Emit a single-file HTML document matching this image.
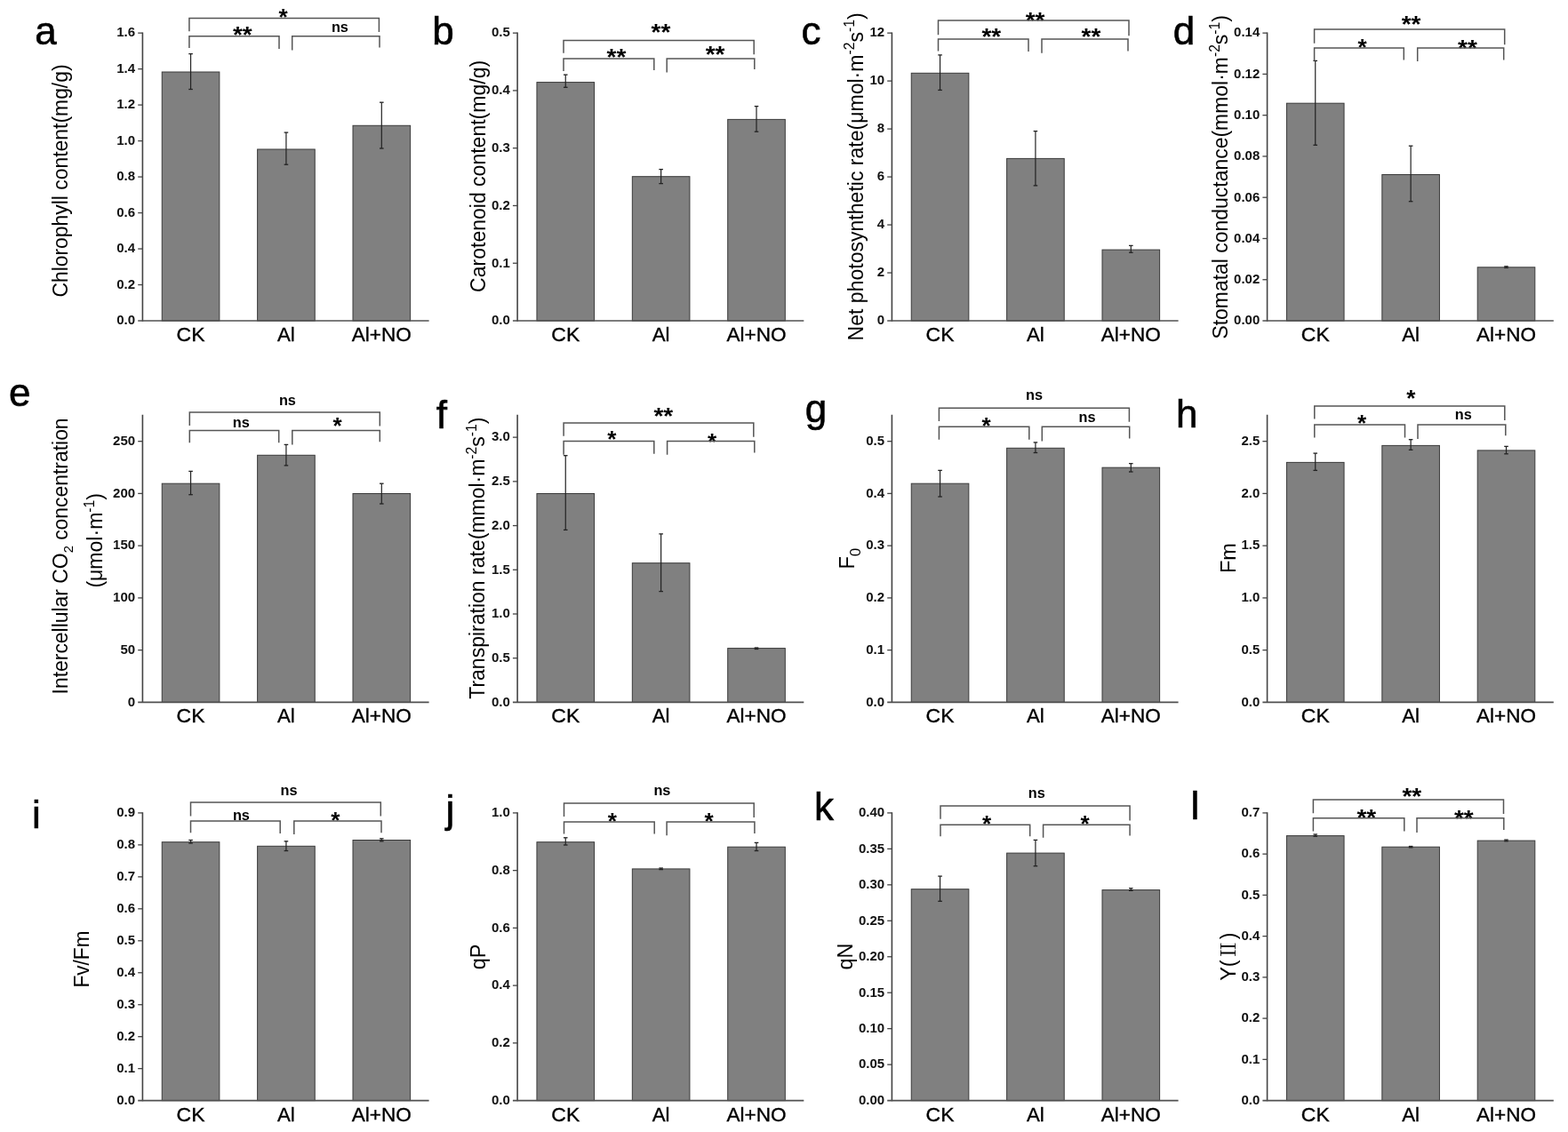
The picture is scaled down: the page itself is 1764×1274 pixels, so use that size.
<!DOCTYPE html>
<html><head><meta charset="utf-8"><title>Figure</title>
<style>
html,body{margin:0;padding:0;background:#fff;}
body{width:1764px;height:1274px;overflow:hidden;}
svg{display:block;}
text{font-family:"Liberation Sans", Arial, sans-serif;}
</style></head>
<body>
<svg width="1764" height="1274" viewBox="0 0 1764 1274">
<rect width="1764" height="1274" fill="#fff"/>
<g id="panel-a">
<rect x="182.25" y="81" width="64.6" height="280" fill="#808080" stroke="#3a3a3a" stroke-width="1"/>
<rect x="289.63" y="168" width="64.6" height="193" fill="#808080" stroke="#3a3a3a" stroke-width="1"/>
<rect x="397.01" y="141.3" width="64.6" height="219.7" fill="#808080" stroke="#3a3a3a" stroke-width="1"/>
<line x1="214.55" y1="60.6" x2="214.55" y2="100.5" stroke="#222" stroke-width="1.2"/>
<line x1="212.25" y1="60.6" x2="216.85" y2="60.6" stroke="#222" stroke-width="1.3"/>
<line x1="212.25" y1="100.5" x2="216.85" y2="100.5" stroke="#222" stroke-width="1.3"/>
<line x1="321.93" y1="149.1" x2="321.93" y2="185.2" stroke="#222" stroke-width="1.2"/>
<line x1="319.63" y1="149.1" x2="324.23" y2="149.1" stroke="#222" stroke-width="1.3"/>
<line x1="319.63" y1="185.2" x2="324.23" y2="185.2" stroke="#222" stroke-width="1.3"/>
<line x1="429.31" y1="115.2" x2="429.31" y2="167" stroke="#222" stroke-width="1.2"/>
<line x1="427.01" y1="115.2" x2="431.61" y2="115.2" stroke="#222" stroke-width="1.3"/>
<line x1="427.01" y1="167" x2="431.61" y2="167" stroke="#222" stroke-width="1.3"/>
<line x1="160.4" y1="36.55" x2="160.4" y2="361.7" stroke="#444" stroke-width="1.6"/>
<line x1="155.2" y1="361" x2="482.6" y2="361" stroke="#505050" stroke-width="1.6"/>
<text x="152.1" y="365.3" font-size="15" font-weight="bold" text-anchor="end" fill="#111">0.0</text>
<line x1="155.2" y1="320.52" x2="160.4" y2="320.52" stroke="#444" stroke-width="1.3"/>
<text x="152.1" y="324.82" font-size="15" font-weight="bold" text-anchor="end" fill="#111">0.2</text>
<line x1="155.2" y1="280.04" x2="160.4" y2="280.04" stroke="#444" stroke-width="1.3"/>
<text x="152.1" y="284.34" font-size="15" font-weight="bold" text-anchor="end" fill="#111">0.4</text>
<line x1="155.2" y1="239.56" x2="160.4" y2="239.56" stroke="#444" stroke-width="1.3"/>
<text x="152.1" y="243.86" font-size="15" font-weight="bold" text-anchor="end" fill="#111">0.6</text>
<line x1="155.2" y1="199.07" x2="160.4" y2="199.07" stroke="#444" stroke-width="1.3"/>
<text x="152.1" y="203.38" font-size="15" font-weight="bold" text-anchor="end" fill="#111">0.8</text>
<line x1="155.2" y1="158.59" x2="160.4" y2="158.59" stroke="#444" stroke-width="1.3"/>
<text x="152.1" y="162.89" font-size="15" font-weight="bold" text-anchor="end" fill="#111">1.0</text>
<line x1="155.2" y1="118.11" x2="160.4" y2="118.11" stroke="#444" stroke-width="1.3"/>
<text x="152.1" y="122.41" font-size="15" font-weight="bold" text-anchor="end" fill="#111">1.2</text>
<line x1="155.2" y1="77.63" x2="160.4" y2="77.63" stroke="#444" stroke-width="1.3"/>
<text x="152.1" y="81.93" font-size="15" font-weight="bold" text-anchor="end" fill="#111">1.4</text>
<line x1="155.2" y1="37.15" x2="160.4" y2="37.15" stroke="#444" stroke-width="1.3"/>
<text x="152.1" y="41.45" font-size="15" font-weight="bold" text-anchor="end" fill="#111">1.6</text>
<text x="214.55" y="383.9" font-size="21.5" text-anchor="middle" textLength="31.9" lengthAdjust="spacingAndGlyphs" fill="#000" stroke="#000" stroke-width="0.35">CK</text>
<text x="321.93" y="383.9" font-size="21.5" text-anchor="middle" textLength="19.8" lengthAdjust="spacingAndGlyphs" fill="#000" stroke="#000" stroke-width="0.35">Al</text>
<text x="429.31" y="383.9" font-size="21.5" text-anchor="middle" textLength="67.0" lengthAdjust="spacingAndGlyphs" fill="#000" stroke="#000" stroke-width="0.35">Al+NO</text>
<text x="313.4" y="28.13" font-size="25.5" font-weight="bold" textLength="10.2" lengthAdjust="spacingAndGlyphs" fill="#000">*</text>
<text x="261.9" y="47.63" font-size="25.5" font-weight="bold" textLength="21.8" lengthAdjust="spacingAndGlyphs" fill="#000">**</text>
<text x="382.4" y="35.9" font-size="16.3" font-weight="bold" text-anchor="middle" fill="#000">ns</text>
<path d="M212.9,35.2V20.4H426.4V36.1" fill="none" stroke="#555" stroke-width="1.5"/>
<path d="M212.9,54V40.8H314V55" fill="none" stroke="#555" stroke-width="1.5"/>
<path d="M328.7,56.5V40.8H427V53.4" fill="none" stroke="#555" stroke-width="1.5"/>
<text x="39.2" y="50.2" font-size="44" fill="#000" stroke="#000" stroke-width="0.6">a</text>
</g>
<g id="panel-b">
<rect x="603.95" y="92.6" width="64.6" height="268.4" fill="#808080" stroke="#3a3a3a" stroke-width="1"/>
<rect x="711.33" y="198.7" width="64.6" height="162.3" fill="#808080" stroke="#3a3a3a" stroke-width="1"/>
<rect x="818.71" y="134.4" width="64.6" height="226.6" fill="#808080" stroke="#3a3a3a" stroke-width="1"/>
<line x1="636.25" y1="84.1" x2="636.25" y2="98.3" stroke="#222" stroke-width="1.2"/>
<line x1="633.95" y1="84.1" x2="638.55" y2="84.1" stroke="#222" stroke-width="1.3"/>
<line x1="633.95" y1="98.3" x2="638.55" y2="98.3" stroke="#222" stroke-width="1.3"/>
<line x1="743.63" y1="190.6" x2="743.63" y2="206.6" stroke="#222" stroke-width="1.2"/>
<line x1="741.33" y1="190.6" x2="745.93" y2="190.6" stroke="#222" stroke-width="1.3"/>
<line x1="741.33" y1="206.6" x2="745.93" y2="206.6" stroke="#222" stroke-width="1.3"/>
<line x1="851.01" y1="119.6" x2="851.01" y2="148.2" stroke="#222" stroke-width="1.2"/>
<line x1="848.71" y1="119.6" x2="853.31" y2="119.6" stroke="#222" stroke-width="1.3"/>
<line x1="848.71" y1="148.2" x2="853.31" y2="148.2" stroke="#222" stroke-width="1.3"/>
<line x1="582.1" y1="36.55" x2="582.1" y2="361.7" stroke="#444" stroke-width="1.6"/>
<line x1="576.9" y1="361" x2="904.3" y2="361" stroke="#505050" stroke-width="1.6"/>
<text x="573.8" y="365.3" font-size="15" font-weight="bold" text-anchor="end" fill="#111">0.0</text>
<line x1="576.9" y1="296.23" x2="582.1" y2="296.23" stroke="#444" stroke-width="1.3"/>
<text x="573.8" y="300.53" font-size="15" font-weight="bold" text-anchor="end" fill="#111">0.1</text>
<line x1="576.9" y1="231.46" x2="582.1" y2="231.46" stroke="#444" stroke-width="1.3"/>
<text x="573.8" y="235.76" font-size="15" font-weight="bold" text-anchor="end" fill="#111">0.2</text>
<line x1="576.9" y1="166.69" x2="582.1" y2="166.69" stroke="#444" stroke-width="1.3"/>
<text x="573.8" y="170.99" font-size="15" font-weight="bold" text-anchor="end" fill="#111">0.3</text>
<line x1="576.9" y1="101.92" x2="582.1" y2="101.92" stroke="#444" stroke-width="1.3"/>
<text x="573.8" y="106.22" font-size="15" font-weight="bold" text-anchor="end" fill="#111">0.4</text>
<line x1="576.9" y1="37.15" x2="582.1" y2="37.15" stroke="#444" stroke-width="1.3"/>
<text x="573.8" y="41.45" font-size="15" font-weight="bold" text-anchor="end" fill="#111">0.5</text>
<text x="636.25" y="383.9" font-size="21.5" text-anchor="middle" textLength="31.9" lengthAdjust="spacingAndGlyphs" fill="#000" stroke="#000" stroke-width="0.35">CK</text>
<text x="743.63" y="383.9" font-size="21.5" text-anchor="middle" textLength="19.8" lengthAdjust="spacingAndGlyphs" fill="#000" stroke="#000" stroke-width="0.35">Al</text>
<text x="851.01" y="383.9" font-size="21.5" text-anchor="middle" textLength="67.0" lengthAdjust="spacingAndGlyphs" fill="#000" stroke="#000" stroke-width="0.35">Al+NO</text>
<text x="732.5" y="44.53" font-size="25.5" font-weight="bold" textLength="21.8" lengthAdjust="spacingAndGlyphs" fill="#000">**</text>
<text x="682.6" y="72.83" font-size="25.5" font-weight="bold" textLength="21.8" lengthAdjust="spacingAndGlyphs" fill="#000">**</text>
<text x="793.7" y="69.63" font-size="25.5" font-weight="bold" textLength="21.8" lengthAdjust="spacingAndGlyphs" fill="#000">**</text>
<path d="M634,59.7V45.5H848.2V61.2" fill="none" stroke="#555" stroke-width="1.5"/>
<path d="M634,80V65.9H735.8V79" fill="none" stroke="#555" stroke-width="1.5"/>
<path d="M750.2,81.6V65.9H848.8V77.9" fill="none" stroke="#555" stroke-width="1.5"/>
<text x="486.2" y="49.9" font-size="44" fill="#000" stroke="#000" stroke-width="0.6">b</text>
</g>
<g id="panel-c">
<rect x="1025.25" y="82.3" width="64.6" height="278.7" fill="#808080" stroke="#3a3a3a" stroke-width="1"/>
<rect x="1132.63" y="178.4" width="64.6" height="182.6" fill="#808080" stroke="#3a3a3a" stroke-width="1"/>
<rect x="1240.01" y="281.1" width="64.6" height="79.9" fill="#808080" stroke="#3a3a3a" stroke-width="1"/>
<line x1="1057.55" y1="61.9" x2="1057.55" y2="101.4" stroke="#222" stroke-width="1.2"/>
<line x1="1055.25" y1="61.9" x2="1059.85" y2="61.9" stroke="#222" stroke-width="1.3"/>
<line x1="1055.25" y1="101.4" x2="1059.85" y2="101.4" stroke="#222" stroke-width="1.3"/>
<line x1="1164.93" y1="147.6" x2="1164.93" y2="208.9" stroke="#222" stroke-width="1.2"/>
<line x1="1162.63" y1="147.6" x2="1167.23" y2="147.6" stroke="#222" stroke-width="1.3"/>
<line x1="1162.63" y1="208.9" x2="1167.23" y2="208.9" stroke="#222" stroke-width="1.3"/>
<line x1="1272.31" y1="276.4" x2="1272.31" y2="284.2" stroke="#222" stroke-width="1.2"/>
<line x1="1270.01" y1="276.4" x2="1274.61" y2="276.4" stroke="#222" stroke-width="1.3"/>
<line x1="1270.01" y1="284.2" x2="1274.61" y2="284.2" stroke="#222" stroke-width="1.3"/>
<line x1="1003.4" y1="36.55" x2="1003.4" y2="361.7" stroke="#444" stroke-width="1.6"/>
<line x1="998.2" y1="361" x2="1325.6" y2="361" stroke="#505050" stroke-width="1.6"/>
<text x="995.1" y="365.3" font-size="15" font-weight="bold" text-anchor="end" fill="#111">0</text>
<line x1="998.2" y1="307.02" x2="1003.4" y2="307.02" stroke="#444" stroke-width="1.3"/>
<text x="995.1" y="311.32" font-size="15" font-weight="bold" text-anchor="end" fill="#111">2</text>
<line x1="998.2" y1="253.05" x2="1003.4" y2="253.05" stroke="#444" stroke-width="1.3"/>
<text x="995.1" y="257.35" font-size="15" font-weight="bold" text-anchor="end" fill="#111">4</text>
<line x1="998.2" y1="199.07" x2="1003.4" y2="199.07" stroke="#444" stroke-width="1.3"/>
<text x="995.1" y="203.38" font-size="15" font-weight="bold" text-anchor="end" fill="#111">6</text>
<line x1="998.2" y1="145.1" x2="1003.4" y2="145.1" stroke="#444" stroke-width="1.3"/>
<text x="995.1" y="149.4" font-size="15" font-weight="bold" text-anchor="end" fill="#111">8</text>
<line x1="998.2" y1="91.12" x2="1003.4" y2="91.12" stroke="#444" stroke-width="1.3"/>
<text x="995.1" y="95.42" font-size="15" font-weight="bold" text-anchor="end" fill="#111">10</text>
<line x1="998.2" y1="37.15" x2="1003.4" y2="37.15" stroke="#444" stroke-width="1.3"/>
<text x="995.1" y="41.45" font-size="15" font-weight="bold" text-anchor="end" fill="#111">12</text>
<text x="1057.55" y="383.9" font-size="21.5" text-anchor="middle" textLength="31.9" lengthAdjust="spacingAndGlyphs" fill="#000" stroke="#000" stroke-width="0.35">CK</text>
<text x="1164.93" y="383.9" font-size="21.5" text-anchor="middle" textLength="19.8" lengthAdjust="spacingAndGlyphs" fill="#000" stroke="#000" stroke-width="0.35">Al</text>
<text x="1272.31" y="383.9" font-size="21.5" text-anchor="middle" textLength="67.0" lengthAdjust="spacingAndGlyphs" fill="#000" stroke="#000" stroke-width="0.35">Al+NO</text>
<text x="1153.7" y="31.53" font-size="25.5" font-weight="bold" textLength="21.8" lengthAdjust="spacingAndGlyphs" fill="#000">**</text>
<text x="1104.4" y="50.13" font-size="25.5" font-weight="bold" textLength="21.8" lengthAdjust="spacingAndGlyphs" fill="#000">**</text>
<text x="1216.5" y="50.13" font-size="25.5" font-weight="bold" textLength="21.8" lengthAdjust="spacingAndGlyphs" fill="#000">**</text>
<path d="M1055.5,39.3V22.9H1270V40.2" fill="none" stroke="#555" stroke-width="1.5"/>
<path d="M1055.5,57.5V44H1157V58.1" fill="none" stroke="#555" stroke-width="1.5"/>
<path d="M1172,59.7V44H1269V57.5" fill="none" stroke="#555" stroke-width="1.5"/>
<text x="901.4" y="49.6" font-size="44" fill="#000" stroke="#000" stroke-width="0.6">c</text>
</g>
<g id="panel-d">
<rect x="1447.45" y="116.2" width="64.6" height="244.8" fill="#808080" stroke="#3a3a3a" stroke-width="1"/>
<rect x="1554.83" y="196.5" width="64.6" height="164.5" fill="#808080" stroke="#3a3a3a" stroke-width="1"/>
<rect x="1662.21" y="300.8" width="64.6" height="60.2" fill="#808080" stroke="#3a3a3a" stroke-width="1"/>
<line x1="1479.75" y1="68.4" x2="1479.75" y2="163.3" stroke="#222" stroke-width="1.2"/>
<line x1="1477.45" y1="68.4" x2="1482.05" y2="68.4" stroke="#222" stroke-width="1.3"/>
<line x1="1477.45" y1="163.3" x2="1482.05" y2="163.3" stroke="#222" stroke-width="1.3"/>
<line x1="1587.13" y1="164.2" x2="1587.13" y2="226.7" stroke="#222" stroke-width="1.2"/>
<line x1="1584.83" y1="164.2" x2="1589.43" y2="164.2" stroke="#222" stroke-width="1.3"/>
<line x1="1584.83" y1="226.7" x2="1589.43" y2="226.7" stroke="#222" stroke-width="1.3"/>
<line x1="1694.51" y1="299.8" x2="1694.51" y2="301.4" stroke="#222" stroke-width="1.2"/>
<line x1="1692.21" y1="299.8" x2="1696.81" y2="299.8" stroke="#222" stroke-width="1.3"/>
<line x1="1692.21" y1="301.4" x2="1696.81" y2="301.4" stroke="#222" stroke-width="1.3"/>
<line x1="1425.6" y1="36.55" x2="1425.6" y2="361.7" stroke="#444" stroke-width="1.6"/>
<line x1="1420.4" y1="361" x2="1747.8" y2="361" stroke="#505050" stroke-width="1.6"/>
<text x="1417.3" y="365.3" font-size="15" font-weight="bold" text-anchor="end" fill="#111">0.00</text>
<line x1="1420.4" y1="314.74" x2="1425.6" y2="314.74" stroke="#444" stroke-width="1.3"/>
<text x="1417.3" y="319.04" font-size="15" font-weight="bold" text-anchor="end" fill="#111">0.02</text>
<line x1="1420.4" y1="268.47" x2="1425.6" y2="268.47" stroke="#444" stroke-width="1.3"/>
<text x="1417.3" y="272.77" font-size="15" font-weight="bold" text-anchor="end" fill="#111">0.04</text>
<line x1="1420.4" y1="222.21" x2="1425.6" y2="222.21" stroke="#444" stroke-width="1.3"/>
<text x="1417.3" y="226.51" font-size="15" font-weight="bold" text-anchor="end" fill="#111">0.06</text>
<line x1="1420.4" y1="175.94" x2="1425.6" y2="175.94" stroke="#444" stroke-width="1.3"/>
<text x="1417.3" y="180.24" font-size="15" font-weight="bold" text-anchor="end" fill="#111">0.08</text>
<line x1="1420.4" y1="129.68" x2="1425.6" y2="129.68" stroke="#444" stroke-width="1.3"/>
<text x="1417.3" y="133.98" font-size="15" font-weight="bold" text-anchor="end" fill="#111">0.10</text>
<line x1="1420.4" y1="83.41" x2="1425.6" y2="83.41" stroke="#444" stroke-width="1.3"/>
<text x="1417.3" y="87.71" font-size="15" font-weight="bold" text-anchor="end" fill="#111">0.12</text>
<line x1="1420.4" y1="37.15" x2="1425.6" y2="37.15" stroke="#444" stroke-width="1.3"/>
<text x="1417.3" y="41.45" font-size="15" font-weight="bold" text-anchor="end" fill="#111">0.14</text>
<text x="1479.75" y="383.9" font-size="21.5" text-anchor="middle" textLength="31.9" lengthAdjust="spacingAndGlyphs" fill="#000" stroke="#000" stroke-width="0.35">CK</text>
<text x="1587.13" y="383.9" font-size="21.5" text-anchor="middle" textLength="19.8" lengthAdjust="spacingAndGlyphs" fill="#000" stroke="#000" stroke-width="0.35">Al</text>
<text x="1694.51" y="383.9" font-size="21.5" text-anchor="middle" textLength="67.0" lengthAdjust="spacingAndGlyphs" fill="#000" stroke="#000" stroke-width="0.35">Al+NO</text>
<text x="1576.7" y="35.73" font-size="25.5" font-weight="bold" textLength="21.8" lengthAdjust="spacingAndGlyphs" fill="#000">**</text>
<text x="1527.6" y="61.83" font-size="25.5" font-weight="bold" textLength="10.2" lengthAdjust="spacingAndGlyphs" fill="#000">*</text>
<text x="1640.1" y="62.73" font-size="25.5" font-weight="bold" textLength="21.8" lengthAdjust="spacingAndGlyphs" fill="#000">**</text>
<path d="M1478.6,48.7V33H1692.7V50.2" fill="none" stroke="#555" stroke-width="1.5"/>
<path d="M1478.6,68.4V54H1579.3V67.5" fill="none" stroke="#555" stroke-width="1.5"/>
<path d="M1594.7,69V54H1691.7V67.5" fill="none" stroke="#555" stroke-width="1.5"/>
<text x="1319.7" y="50.2" font-size="44" fill="#000" stroke="#000" stroke-width="0.6">d</text>
</g>
<g id="panel-e">
<rect x="182.25" y="544.2" width="64.6" height="246.2" fill="#808080" stroke="#3a3a3a" stroke-width="1"/>
<rect x="289.63" y="512.3" width="64.6" height="278.1" fill="#808080" stroke="#3a3a3a" stroke-width="1"/>
<rect x="397.01" y="555.5" width="64.6" height="234.9" fill="#808080" stroke="#3a3a3a" stroke-width="1"/>
<line x1="214.55" y1="530.4" x2="214.55" y2="556.7" stroke="#222" stroke-width="1.2"/>
<line x1="212.25" y1="530.4" x2="216.85" y2="530.4" stroke="#222" stroke-width="1.3"/>
<line x1="212.25" y1="556.7" x2="216.85" y2="556.7" stroke="#222" stroke-width="1.3"/>
<line x1="321.93" y1="500.4" x2="321.93" y2="523.9" stroke="#222" stroke-width="1.2"/>
<line x1="319.63" y1="500.4" x2="324.23" y2="500.4" stroke="#222" stroke-width="1.3"/>
<line x1="319.63" y1="523.9" x2="324.23" y2="523.9" stroke="#222" stroke-width="1.3"/>
<line x1="429.31" y1="544.2" x2="429.31" y2="567" stroke="#222" stroke-width="1.2"/>
<line x1="427.01" y1="544.2" x2="431.61" y2="544.2" stroke="#222" stroke-width="1.3"/>
<line x1="427.01" y1="567" x2="431.61" y2="567" stroke="#222" stroke-width="1.3"/>
<line x1="160.4" y1="466.7" x2="160.4" y2="791.1" stroke="#444" stroke-width="1.6"/>
<line x1="155.2" y1="790.4" x2="482.6" y2="790.4" stroke="#505050" stroke-width="1.6"/>
<text x="152.1" y="794.7" font-size="15" font-weight="bold" text-anchor="end" fill="#111">0</text>
<line x1="155.2" y1="731.65" x2="160.4" y2="731.65" stroke="#444" stroke-width="1.3"/>
<text x="152.1" y="735.95" font-size="15" font-weight="bold" text-anchor="end" fill="#111">50</text>
<line x1="155.2" y1="672.91" x2="160.4" y2="672.91" stroke="#444" stroke-width="1.3"/>
<text x="152.1" y="677.21" font-size="15" font-weight="bold" text-anchor="end" fill="#111">100</text>
<line x1="155.2" y1="614.16" x2="160.4" y2="614.16" stroke="#444" stroke-width="1.3"/>
<text x="152.1" y="618.46" font-size="15" font-weight="bold" text-anchor="end" fill="#111">150</text>
<line x1="155.2" y1="555.42" x2="160.4" y2="555.42" stroke="#444" stroke-width="1.3"/>
<text x="152.1" y="559.72" font-size="15" font-weight="bold" text-anchor="end" fill="#111">200</text>
<line x1="155.2" y1="496.67" x2="160.4" y2="496.67" stroke="#444" stroke-width="1.3"/>
<text x="152.1" y="500.97" font-size="15" font-weight="bold" text-anchor="end" fill="#111">250</text>
<text x="214.55" y="813.3" font-size="21.5" text-anchor="middle" textLength="31.9" lengthAdjust="spacingAndGlyphs" fill="#000" stroke="#000" stroke-width="0.35">CK</text>
<text x="321.93" y="813.3" font-size="21.5" text-anchor="middle" textLength="19.8" lengthAdjust="spacingAndGlyphs" fill="#000" stroke="#000" stroke-width="0.35">Al</text>
<text x="429.31" y="813.3" font-size="21.5" text-anchor="middle" textLength="67.0" lengthAdjust="spacingAndGlyphs" fill="#000" stroke="#000" stroke-width="0.35">Al+NO</text>
<text x="323.4" y="455.8" font-size="16.3" font-weight="bold" text-anchor="middle" fill="#000">ns</text>
<text x="271.2" y="480.5" font-size="16.3" font-weight="bold" text-anchor="middle" fill="#000">ns</text>
<text x="374.4" y="488.43" font-size="25.5" font-weight="bold" textLength="10.2" lengthAdjust="spacingAndGlyphs" fill="#000">*</text>
<path d="M213.3,478.9V464.1H427.3V479.5" fill="none" stroke="#555" stroke-width="1.5"/>
<path d="M213.3,498.2V484.4H313.7V498.2" fill="none" stroke="#555" stroke-width="1.5"/>
<path d="M328.8,500.4V484.4H427.3V497.2" fill="none" stroke="#555" stroke-width="1.5"/>
<text x="10" y="457.2" font-size="44" fill="#000" stroke="#000" stroke-width="0.6">e</text>
</g>
<g id="panel-f">
<rect x="603.95" y="555.5" width="64.6" height="234.9" fill="#808080" stroke="#3a3a3a" stroke-width="1"/>
<rect x="711.33" y="633.7" width="64.6" height="156.7" fill="#808080" stroke="#3a3a3a" stroke-width="1"/>
<rect x="818.71" y="729.6" width="64.6" height="60.8" fill="#808080" stroke="#3a3a3a" stroke-width="1"/>
<line x1="636.25" y1="512.7" x2="636.25" y2="596.4" stroke="#222" stroke-width="1.2"/>
<line x1="633.95" y1="512.7" x2="638.55" y2="512.7" stroke="#222" stroke-width="1.3"/>
<line x1="633.95" y1="596.4" x2="638.55" y2="596.4" stroke="#222" stroke-width="1.3"/>
<line x1="743.63" y1="600.9" x2="743.63" y2="665.6" stroke="#222" stroke-width="1.2"/>
<line x1="741.33" y1="600.9" x2="745.93" y2="600.9" stroke="#222" stroke-width="1.3"/>
<line x1="741.33" y1="665.6" x2="745.93" y2="665.6" stroke="#222" stroke-width="1.3"/>
<line x1="851.01" y1="729" x2="851.01" y2="730.5" stroke="#222" stroke-width="1.2"/>
<line x1="848.71" y1="729" x2="853.31" y2="729" stroke="#222" stroke-width="1.3"/>
<line x1="848.71" y1="730.5" x2="853.31" y2="730.5" stroke="#222" stroke-width="1.3"/>
<line x1="582.1" y1="466.7" x2="582.1" y2="791.1" stroke="#444" stroke-width="1.6"/>
<line x1="576.9" y1="790.4" x2="904.3" y2="790.4" stroke="#505050" stroke-width="1.6"/>
<text x="573.8" y="794.7" font-size="15" font-weight="bold" text-anchor="end" fill="#111">0.0</text>
<line x1="576.9" y1="740.69" x2="582.1" y2="740.69" stroke="#444" stroke-width="1.3"/>
<text x="573.8" y="744.99" font-size="15" font-weight="bold" text-anchor="end" fill="#111">0.5</text>
<line x1="576.9" y1="690.98" x2="582.1" y2="690.98" stroke="#444" stroke-width="1.3"/>
<text x="573.8" y="695.28" font-size="15" font-weight="bold" text-anchor="end" fill="#111">1.0</text>
<line x1="576.9" y1="641.28" x2="582.1" y2="641.28" stroke="#444" stroke-width="1.3"/>
<text x="573.8" y="645.58" font-size="15" font-weight="bold" text-anchor="end" fill="#111">1.5</text>
<line x1="576.9" y1="591.57" x2="582.1" y2="591.57" stroke="#444" stroke-width="1.3"/>
<text x="573.8" y="595.87" font-size="15" font-weight="bold" text-anchor="end" fill="#111">2.0</text>
<line x1="576.9" y1="541.86" x2="582.1" y2="541.86" stroke="#444" stroke-width="1.3"/>
<text x="573.8" y="546.16" font-size="15" font-weight="bold" text-anchor="end" fill="#111">2.5</text>
<line x1="576.9" y1="492.15" x2="582.1" y2="492.15" stroke="#444" stroke-width="1.3"/>
<text x="573.8" y="496.45" font-size="15" font-weight="bold" text-anchor="end" fill="#111">3.0</text>
<text x="636.25" y="813.3" font-size="21.5" text-anchor="middle" textLength="31.9" lengthAdjust="spacingAndGlyphs" fill="#000" stroke="#000" stroke-width="0.35">CK</text>
<text x="743.63" y="813.3" font-size="21.5" text-anchor="middle" textLength="19.8" lengthAdjust="spacingAndGlyphs" fill="#000" stroke="#000" stroke-width="0.35">Al</text>
<text x="851.01" y="813.3" font-size="21.5" text-anchor="middle" textLength="67.0" lengthAdjust="spacingAndGlyphs" fill="#000" stroke="#000" stroke-width="0.35">Al+NO</text>
<text x="735.4" y="476.63" font-size="25.5" font-weight="bold" textLength="21.8" lengthAdjust="spacingAndGlyphs" fill="#000">**</text>
<text x="683.2" y="503.33" font-size="25.5" font-weight="bold" textLength="10.2" lengthAdjust="spacingAndGlyphs" fill="#000">*</text>
<text x="795.9" y="505.53" font-size="25.5" font-weight="bold" textLength="10.2" lengthAdjust="spacingAndGlyphs" fill="#000">*</text>
<path d="M634.1,490.8V476H847.8V491.8" fill="none" stroke="#555" stroke-width="1.5"/>
<path d="M634.1,511.7V496.6H735.8V510.8" fill="none" stroke="#555" stroke-width="1.5"/>
<path d="M750.6,511.7V496.6H848.8V509.5" fill="none" stroke="#555" stroke-width="1.5"/>
<text x="490.7" y="482.2" font-size="44" fill="#000" stroke="#000" stroke-width="0.6">f</text>
</g>
<g id="panel-g">
<rect x="1025.25" y="544.2" width="64.6" height="246.2" fill="#808080" stroke="#3a3a3a" stroke-width="1"/>
<rect x="1132.63" y="504.3" width="64.6" height="286.1" fill="#808080" stroke="#3a3a3a" stroke-width="1"/>
<rect x="1240.01" y="526.2" width="64.6" height="264.2" fill="#808080" stroke="#3a3a3a" stroke-width="1"/>
<line x1="1057.55" y1="529.4" x2="1057.55" y2="559" stroke="#222" stroke-width="1.2"/>
<line x1="1055.25" y1="529.4" x2="1059.85" y2="529.4" stroke="#222" stroke-width="1.3"/>
<line x1="1055.25" y1="559" x2="1059.85" y2="559" stroke="#222" stroke-width="1.3"/>
<line x1="1164.93" y1="497.9" x2="1164.93" y2="509.5" stroke="#222" stroke-width="1.2"/>
<line x1="1162.63" y1="497.9" x2="1167.23" y2="497.9" stroke="#222" stroke-width="1.3"/>
<line x1="1162.63" y1="509.5" x2="1167.23" y2="509.5" stroke="#222" stroke-width="1.3"/>
<line x1="1272.31" y1="521.7" x2="1272.31" y2="531" stroke="#222" stroke-width="1.2"/>
<line x1="1270.01" y1="521.7" x2="1274.61" y2="521.7" stroke="#222" stroke-width="1.3"/>
<line x1="1270.01" y1="531" x2="1274.61" y2="531" stroke="#222" stroke-width="1.3"/>
<line x1="1003.4" y1="466.7" x2="1003.4" y2="791.1" stroke="#444" stroke-width="1.6"/>
<line x1="998.2" y1="790.4" x2="1325.6" y2="790.4" stroke="#505050" stroke-width="1.6"/>
<text x="995.1" y="794.7" font-size="15" font-weight="bold" text-anchor="end" fill="#111">0.0</text>
<line x1="998.2" y1="731.65" x2="1003.4" y2="731.65" stroke="#444" stroke-width="1.3"/>
<text x="995.1" y="735.95" font-size="15" font-weight="bold" text-anchor="end" fill="#111">0.1</text>
<line x1="998.2" y1="672.91" x2="1003.4" y2="672.91" stroke="#444" stroke-width="1.3"/>
<text x="995.1" y="677.21" font-size="15" font-weight="bold" text-anchor="end" fill="#111">0.2</text>
<line x1="998.2" y1="614.16" x2="1003.4" y2="614.16" stroke="#444" stroke-width="1.3"/>
<text x="995.1" y="618.46" font-size="15" font-weight="bold" text-anchor="end" fill="#111">0.3</text>
<line x1="998.2" y1="555.42" x2="1003.4" y2="555.42" stroke="#444" stroke-width="1.3"/>
<text x="995.1" y="559.72" font-size="15" font-weight="bold" text-anchor="end" fill="#111">0.4</text>
<line x1="998.2" y1="496.67" x2="1003.4" y2="496.67" stroke="#444" stroke-width="1.3"/>
<text x="995.1" y="500.97" font-size="15" font-weight="bold" text-anchor="end" fill="#111">0.5</text>
<text x="1057.55" y="813.3" font-size="21.5" text-anchor="middle" textLength="31.9" lengthAdjust="spacingAndGlyphs" fill="#000" stroke="#000" stroke-width="0.35">CK</text>
<text x="1164.93" y="813.3" font-size="21.5" text-anchor="middle" textLength="19.8" lengthAdjust="spacingAndGlyphs" fill="#000" stroke="#000" stroke-width="0.35">Al</text>
<text x="1272.31" y="813.3" font-size="21.5" text-anchor="middle" textLength="67.0" lengthAdjust="spacingAndGlyphs" fill="#000" stroke="#000" stroke-width="0.35">Al+NO</text>
<text x="1163.6" y="450.3" font-size="16.3" font-weight="bold" text-anchor="middle" fill="#000">ns</text>
<text x="1104.5" y="487.83" font-size="25.5" font-weight="bold" textLength="10.2" lengthAdjust="spacingAndGlyphs" fill="#000">*</text>
<text x="1223.1" y="475.1" font-size="16.3" font-weight="bold" text-anchor="middle" fill="#000">ns</text>
<path d="M1056.4,474V459.3H1270.4V474.7" fill="none" stroke="#555" stroke-width="1.5"/>
<path d="M1056.4,494.7V480.2H1157.8V494.7" fill="none" stroke="#555" stroke-width="1.5"/>
<path d="M1172.3,496.6V480.2H1270.7V493.4" fill="none" stroke="#555" stroke-width="1.5"/>
<text x="905.7" y="475" font-size="44" fill="#000" stroke="#000" stroke-width="0.6">g</text>
</g>
<g id="panel-h">
<rect x="1447.45" y="520.4" width="64.6" height="270" fill="#808080" stroke="#3a3a3a" stroke-width="1"/>
<rect x="1554.83" y="501.4" width="64.6" height="289" fill="#808080" stroke="#3a3a3a" stroke-width="1"/>
<rect x="1662.21" y="506.9" width="64.6" height="283.5" fill="#808080" stroke="#3a3a3a" stroke-width="1"/>
<line x1="1479.75" y1="510.1" x2="1479.75" y2="529.4" stroke="#222" stroke-width="1.2"/>
<line x1="1477.45" y1="510.1" x2="1482.05" y2="510.1" stroke="#222" stroke-width="1.3"/>
<line x1="1477.45" y1="529.4" x2="1482.05" y2="529.4" stroke="#222" stroke-width="1.3"/>
<line x1="1587.13" y1="494.7" x2="1587.13" y2="506.3" stroke="#222" stroke-width="1.2"/>
<line x1="1584.83" y1="494.7" x2="1589.43" y2="494.7" stroke="#222" stroke-width="1.3"/>
<line x1="1584.83" y1="506.3" x2="1589.43" y2="506.3" stroke="#222" stroke-width="1.3"/>
<line x1="1694.51" y1="502.4" x2="1694.51" y2="510.8" stroke="#222" stroke-width="1.2"/>
<line x1="1692.21" y1="502.4" x2="1696.81" y2="502.4" stroke="#222" stroke-width="1.3"/>
<line x1="1692.21" y1="510.8" x2="1696.81" y2="510.8" stroke="#222" stroke-width="1.3"/>
<line x1="1425.6" y1="466.7" x2="1425.6" y2="791.1" stroke="#444" stroke-width="1.6"/>
<line x1="1420.4" y1="790.4" x2="1747.8" y2="790.4" stroke="#505050" stroke-width="1.6"/>
<text x="1417.3" y="794.7" font-size="15" font-weight="bold" text-anchor="end" fill="#111">0.0</text>
<line x1="1420.4" y1="731.65" x2="1425.6" y2="731.65" stroke="#444" stroke-width="1.3"/>
<text x="1417.3" y="735.95" font-size="15" font-weight="bold" text-anchor="end" fill="#111">0.5</text>
<line x1="1420.4" y1="672.91" x2="1425.6" y2="672.91" stroke="#444" stroke-width="1.3"/>
<text x="1417.3" y="677.21" font-size="15" font-weight="bold" text-anchor="end" fill="#111">1.0</text>
<line x1="1420.4" y1="614.16" x2="1425.6" y2="614.16" stroke="#444" stroke-width="1.3"/>
<text x="1417.3" y="618.46" font-size="15" font-weight="bold" text-anchor="end" fill="#111">1.5</text>
<line x1="1420.4" y1="555.42" x2="1425.6" y2="555.42" stroke="#444" stroke-width="1.3"/>
<text x="1417.3" y="559.72" font-size="15" font-weight="bold" text-anchor="end" fill="#111">2.0</text>
<line x1="1420.4" y1="496.67" x2="1425.6" y2="496.67" stroke="#444" stroke-width="1.3"/>
<text x="1417.3" y="500.97" font-size="15" font-weight="bold" text-anchor="end" fill="#111">2.5</text>
<text x="1479.75" y="813.3" font-size="21.5" text-anchor="middle" textLength="31.9" lengthAdjust="spacingAndGlyphs" fill="#000" stroke="#000" stroke-width="0.35">CK</text>
<text x="1587.13" y="813.3" font-size="21.5" text-anchor="middle" textLength="19.8" lengthAdjust="spacingAndGlyphs" fill="#000" stroke="#000" stroke-width="0.35">Al</text>
<text x="1694.51" y="813.3" font-size="21.5" text-anchor="middle" textLength="67.0" lengthAdjust="spacingAndGlyphs" fill="#000" stroke="#000" stroke-width="0.35">Al+NO</text>
<text x="1582.3" y="457.23" font-size="25.5" font-weight="bold" textLength="10.2" lengthAdjust="spacingAndGlyphs" fill="#000">*</text>
<text x="1526.9" y="484.63" font-size="25.5" font-weight="bold" textLength="10.2" lengthAdjust="spacingAndGlyphs" fill="#000">*</text>
<text x="1646.2" y="471.9" font-size="16.3" font-weight="bold" text-anchor="middle" fill="#000">ns</text>
<path d="M1478.8,471.5V457H1692.8V473.1" fill="none" stroke="#555" stroke-width="1.5"/>
<path d="M1478.8,492.4V477.9H1580.5V492.4" fill="none" stroke="#555" stroke-width="1.5"/>
<path d="M1595,494V477.9H1693.8V490.2" fill="none" stroke="#555" stroke-width="1.5"/>
<text x="1322.9" y="481" font-size="44" fill="#000" stroke="#000" stroke-width="0.6">h</text>
</g>
<g id="panel-i">
<rect x="182.25" y="947.7" width="64.6" height="290.9" fill="#808080" stroke="#3a3a3a" stroke-width="1"/>
<rect x="289.63" y="952.3" width="64.6" height="286.3" fill="#808080" stroke="#3a3a3a" stroke-width="1"/>
<rect x="397.01" y="945.5" width="64.6" height="293.1" fill="#808080" stroke="#3a3a3a" stroke-width="1"/>
<line x1="214.55" y1="945.5" x2="214.55" y2="949" stroke="#222" stroke-width="1.2"/>
<line x1="212.25" y1="945.5" x2="216.85" y2="945.5" stroke="#222" stroke-width="1.3"/>
<line x1="212.25" y1="949" x2="216.85" y2="949" stroke="#222" stroke-width="1.3"/>
<line x1="321.93" y1="946.8" x2="321.93" y2="957.5" stroke="#222" stroke-width="1.2"/>
<line x1="319.63" y1="946.8" x2="324.23" y2="946.8" stroke="#222" stroke-width="1.3"/>
<line x1="319.63" y1="957.5" x2="324.23" y2="957.5" stroke="#222" stroke-width="1.3"/>
<line x1="429.31" y1="943.8" x2="429.31" y2="946.8" stroke="#222" stroke-width="1.2"/>
<line x1="427.01" y1="943.8" x2="431.61" y2="943.8" stroke="#222" stroke-width="1.3"/>
<line x1="427.01" y1="946.8" x2="431.61" y2="946.8" stroke="#222" stroke-width="1.3"/>
<line x1="160.4" y1="914.3" x2="160.4" y2="1239.3" stroke="#444" stroke-width="1.6"/>
<line x1="155.2" y1="1238.6" x2="482.6" y2="1238.6" stroke="#505050" stroke-width="1.6"/>
<text x="152.1" y="1242.9" font-size="15" font-weight="bold" text-anchor="end" fill="#111">0.0</text>
<line x1="155.2" y1="1202.63" x2="160.4" y2="1202.63" stroke="#444" stroke-width="1.3"/>
<text x="152.1" y="1206.93" font-size="15" font-weight="bold" text-anchor="end" fill="#111">0.1</text>
<line x1="155.2" y1="1166.67" x2="160.4" y2="1166.67" stroke="#444" stroke-width="1.3"/>
<text x="152.1" y="1170.97" font-size="15" font-weight="bold" text-anchor="end" fill="#111">0.2</text>
<line x1="155.2" y1="1130.7" x2="160.4" y2="1130.7" stroke="#444" stroke-width="1.3"/>
<text x="152.1" y="1135" font-size="15" font-weight="bold" text-anchor="end" fill="#111">0.3</text>
<line x1="155.2" y1="1094.73" x2="160.4" y2="1094.73" stroke="#444" stroke-width="1.3"/>
<text x="152.1" y="1099.03" font-size="15" font-weight="bold" text-anchor="end" fill="#111">0.4</text>
<line x1="155.2" y1="1058.77" x2="160.4" y2="1058.77" stroke="#444" stroke-width="1.3"/>
<text x="152.1" y="1063.07" font-size="15" font-weight="bold" text-anchor="end" fill="#111">0.5</text>
<line x1="155.2" y1="1022.8" x2="160.4" y2="1022.8" stroke="#444" stroke-width="1.3"/>
<text x="152.1" y="1027.1" font-size="15" font-weight="bold" text-anchor="end" fill="#111">0.6</text>
<line x1="155.2" y1="986.83" x2="160.4" y2="986.83" stroke="#444" stroke-width="1.3"/>
<text x="152.1" y="991.13" font-size="15" font-weight="bold" text-anchor="end" fill="#111">0.7</text>
<line x1="155.2" y1="950.87" x2="160.4" y2="950.87" stroke="#444" stroke-width="1.3"/>
<text x="152.1" y="955.17" font-size="15" font-weight="bold" text-anchor="end" fill="#111">0.8</text>
<line x1="155.2" y1="914.9" x2="160.4" y2="914.9" stroke="#444" stroke-width="1.3"/>
<text x="152.1" y="919.2" font-size="15" font-weight="bold" text-anchor="end" fill="#111">0.9</text>
<text x="214.55" y="1261.5" font-size="21.5" text-anchor="middle" textLength="31.9" lengthAdjust="spacingAndGlyphs" fill="#000" stroke="#000" stroke-width="0.35">CK</text>
<text x="321.93" y="1261.5" font-size="21.5" text-anchor="middle" textLength="19.8" lengthAdjust="spacingAndGlyphs" fill="#000" stroke="#000" stroke-width="0.35">Al</text>
<text x="429.31" y="1261.5" font-size="21.5" text-anchor="middle" textLength="67.0" lengthAdjust="spacingAndGlyphs" fill="#000" stroke="#000" stroke-width="0.35">Al+NO</text>
<text x="325" y="895.1" font-size="16.3" font-weight="bold" text-anchor="middle" fill="#000">ns</text>
<text x="271.4" y="923" font-size="16.3" font-weight="bold" text-anchor="middle" fill="#000">ns</text>
<text x="372.3" y="932.23" font-size="25.5" font-weight="bold" textLength="10.2" lengthAdjust="spacingAndGlyphs" fill="#000">*</text>
<path d="M214.5,918.5V902.9H428.3V918.5" fill="none" stroke="#555" stroke-width="1.5"/>
<path d="M214.5,937.3V924H315.2V938" fill="none" stroke="#555" stroke-width="1.5"/>
<path d="M330.8,939V924H429V937.3" fill="none" stroke="#555" stroke-width="1.5"/>
<text x="36" y="932.1" font-size="44" fill="#000" stroke="#000" stroke-width="0.6">i</text>
</g>
<g id="panel-j">
<rect x="603.95" y="947.7" width="64.6" height="290.9" fill="#808080" stroke="#3a3a3a" stroke-width="1"/>
<rect x="711.33" y="977.9" width="64.6" height="260.7" fill="#808080" stroke="#3a3a3a" stroke-width="1"/>
<rect x="818.71" y="953.2" width="64.6" height="285.4" fill="#808080" stroke="#3a3a3a" stroke-width="1"/>
<line x1="636.25" y1="942.8" x2="636.25" y2="951" stroke="#222" stroke-width="1.2"/>
<line x1="633.95" y1="942.8" x2="638.55" y2="942.8" stroke="#222" stroke-width="1.3"/>
<line x1="633.95" y1="951" x2="638.55" y2="951" stroke="#222" stroke-width="1.3"/>
<line x1="743.63" y1="977" x2="743.63" y2="978.6" stroke="#222" stroke-width="1.2"/>
<line x1="741.33" y1="977" x2="745.93" y2="977" stroke="#222" stroke-width="1.3"/>
<line x1="741.33" y1="978.6" x2="745.93" y2="978.6" stroke="#222" stroke-width="1.3"/>
<line x1="851.01" y1="948.4" x2="851.01" y2="957.5" stroke="#222" stroke-width="1.2"/>
<line x1="848.71" y1="948.4" x2="853.31" y2="948.4" stroke="#222" stroke-width="1.3"/>
<line x1="848.71" y1="957.5" x2="853.31" y2="957.5" stroke="#222" stroke-width="1.3"/>
<line x1="582.1" y1="914.3" x2="582.1" y2="1239.3" stroke="#444" stroke-width="1.6"/>
<line x1="576.9" y1="1238.6" x2="904.3" y2="1238.6" stroke="#505050" stroke-width="1.6"/>
<text x="573.8" y="1242.9" font-size="15" font-weight="bold" text-anchor="end" fill="#111">0.0</text>
<line x1="576.9" y1="1173.86" x2="582.1" y2="1173.86" stroke="#444" stroke-width="1.3"/>
<text x="573.8" y="1178.16" font-size="15" font-weight="bold" text-anchor="end" fill="#111">0.2</text>
<line x1="576.9" y1="1109.12" x2="582.1" y2="1109.12" stroke="#444" stroke-width="1.3"/>
<text x="573.8" y="1113.42" font-size="15" font-weight="bold" text-anchor="end" fill="#111">0.4</text>
<line x1="576.9" y1="1044.38" x2="582.1" y2="1044.38" stroke="#444" stroke-width="1.3"/>
<text x="573.8" y="1048.68" font-size="15" font-weight="bold" text-anchor="end" fill="#111">0.6</text>
<line x1="576.9" y1="979.64" x2="582.1" y2="979.64" stroke="#444" stroke-width="1.3"/>
<text x="573.8" y="983.94" font-size="15" font-weight="bold" text-anchor="end" fill="#111">0.8</text>
<line x1="576.9" y1="914.9" x2="582.1" y2="914.9" stroke="#444" stroke-width="1.3"/>
<text x="573.8" y="919.2" font-size="15" font-weight="bold" text-anchor="end" fill="#111">1.0</text>
<text x="636.25" y="1261.5" font-size="21.5" text-anchor="middle" textLength="31.9" lengthAdjust="spacingAndGlyphs" fill="#000" stroke="#000" stroke-width="0.35">CK</text>
<text x="743.63" y="1261.5" font-size="21.5" text-anchor="middle" textLength="19.8" lengthAdjust="spacingAndGlyphs" fill="#000" stroke="#000" stroke-width="0.35">Al</text>
<text x="851.01" y="1261.5" font-size="21.5" text-anchor="middle" textLength="67.0" lengthAdjust="spacingAndGlyphs" fill="#000" stroke="#000" stroke-width="0.35">Al+NO</text>
<text x="744.9" y="895.1" font-size="16.3" font-weight="bold" text-anchor="middle" fill="#000">ns</text>
<text x="683.7" y="933.23" font-size="25.5" font-weight="bold" textLength="10.2" lengthAdjust="spacingAndGlyphs" fill="#000">*</text>
<text x="792.6" y="933.23" font-size="25.5" font-weight="bold" textLength="10.2" lengthAdjust="spacingAndGlyphs" fill="#000">*</text>
<path d="M634.5,919.1V903.9H848.2V920.1" fill="none" stroke="#555" stroke-width="1.5"/>
<path d="M634.5,938.6V925H736.2V938.6" fill="none" stroke="#555" stroke-width="1.5"/>
<path d="M750.1,940.2V925H848.9V938" fill="none" stroke="#555" stroke-width="1.5"/>
<text x="501.5" y="926.4" font-size="44" fill="#000" stroke="#000" stroke-width="0.6">j</text>
</g>
<g id="panel-k">
<rect x="1025.25" y="1000.7" width="64.6" height="237.9" fill="#808080" stroke="#3a3a3a" stroke-width="1"/>
<rect x="1132.63" y="960.1" width="64.6" height="278.5" fill="#808080" stroke="#3a3a3a" stroke-width="1"/>
<rect x="1240.01" y="1001.6" width="64.6" height="237" fill="#808080" stroke="#3a3a3a" stroke-width="1"/>
<line x1="1057.55" y1="986.1" x2="1057.55" y2="1014.3" stroke="#222" stroke-width="1.2"/>
<line x1="1055.25" y1="986.1" x2="1059.85" y2="986.1" stroke="#222" stroke-width="1.3"/>
<line x1="1055.25" y1="1014.3" x2="1059.85" y2="1014.3" stroke="#222" stroke-width="1.3"/>
<line x1="1164.93" y1="945.4" x2="1164.93" y2="974.7" stroke="#222" stroke-width="1.2"/>
<line x1="1162.63" y1="945.4" x2="1167.23" y2="945.4" stroke="#222" stroke-width="1.3"/>
<line x1="1162.63" y1="974.7" x2="1167.23" y2="974.7" stroke="#222" stroke-width="1.3"/>
<line x1="1272.31" y1="999.7" x2="1272.31" y2="1002.3" stroke="#222" stroke-width="1.2"/>
<line x1="1270.01" y1="999.7" x2="1274.61" y2="999.7" stroke="#222" stroke-width="1.3"/>
<line x1="1270.01" y1="1002.3" x2="1274.61" y2="1002.3" stroke="#222" stroke-width="1.3"/>
<line x1="1003.4" y1="914.3" x2="1003.4" y2="1239.3" stroke="#444" stroke-width="1.6"/>
<line x1="998.2" y1="1238.6" x2="1325.6" y2="1238.6" stroke="#505050" stroke-width="1.6"/>
<text x="995.1" y="1242.9" font-size="15" font-weight="bold" text-anchor="end" fill="#111">0.00</text>
<line x1="998.2" y1="1198.14" x2="1003.4" y2="1198.14" stroke="#444" stroke-width="1.3"/>
<text x="995.1" y="1202.44" font-size="15" font-weight="bold" text-anchor="end" fill="#111">0.05</text>
<line x1="998.2" y1="1157.67" x2="1003.4" y2="1157.67" stroke="#444" stroke-width="1.3"/>
<text x="995.1" y="1161.97" font-size="15" font-weight="bold" text-anchor="end" fill="#111">0.10</text>
<line x1="998.2" y1="1117.21" x2="1003.4" y2="1117.21" stroke="#444" stroke-width="1.3"/>
<text x="995.1" y="1121.51" font-size="15" font-weight="bold" text-anchor="end" fill="#111">0.15</text>
<line x1="998.2" y1="1076.75" x2="1003.4" y2="1076.75" stroke="#444" stroke-width="1.3"/>
<text x="995.1" y="1081.05" font-size="15" font-weight="bold" text-anchor="end" fill="#111">0.20</text>
<line x1="998.2" y1="1036.29" x2="1003.4" y2="1036.29" stroke="#444" stroke-width="1.3"/>
<text x="995.1" y="1040.59" font-size="15" font-weight="bold" text-anchor="end" fill="#111">0.25</text>
<line x1="998.2" y1="995.82" x2="1003.4" y2="995.82" stroke="#444" stroke-width="1.3"/>
<text x="995.1" y="1000.12" font-size="15" font-weight="bold" text-anchor="end" fill="#111">0.30</text>
<line x1="998.2" y1="955.36" x2="1003.4" y2="955.36" stroke="#444" stroke-width="1.3"/>
<text x="995.1" y="959.66" font-size="15" font-weight="bold" text-anchor="end" fill="#111">0.35</text>
<line x1="998.2" y1="914.9" x2="1003.4" y2="914.9" stroke="#444" stroke-width="1.3"/>
<text x="995.1" y="919.2" font-size="15" font-weight="bold" text-anchor="end" fill="#111">0.40</text>
<text x="1057.55" y="1261.5" font-size="21.5" text-anchor="middle" textLength="31.9" lengthAdjust="spacingAndGlyphs" fill="#000" stroke="#000" stroke-width="0.35">CK</text>
<text x="1164.93" y="1261.5" font-size="21.5" text-anchor="middle" textLength="19.8" lengthAdjust="spacingAndGlyphs" fill="#000" stroke="#000" stroke-width="0.35">Al</text>
<text x="1272.31" y="1261.5" font-size="21.5" text-anchor="middle" textLength="67.0" lengthAdjust="spacingAndGlyphs" fill="#000" stroke="#000" stroke-width="0.35">Al+NO</text>
<text x="1166.2" y="897.7" font-size="16.3" font-weight="bold" text-anchor="middle" fill="#000">ns</text>
<text x="1105" y="935.53" font-size="25.5" font-weight="bold" textLength="10.2" lengthAdjust="spacingAndGlyphs" fill="#000">*</text>
<text x="1215.4" y="935.53" font-size="25.5" font-weight="bold" textLength="10.2" lengthAdjust="spacingAndGlyphs" fill="#000">*</text>
<path d="M1058,921.7V907.1H1271.1V923.4" fill="none" stroke="#555" stroke-width="1.5"/>
<path d="M1058,941.2V928.2H1158.7V941.2" fill="none" stroke="#555" stroke-width="1.5"/>
<path d="M1173.6,942.8V928.2H1271.1V940.6" fill="none" stroke="#555" stroke-width="1.5"/>
<text x="916.1" y="923.4" font-size="44" fill="#000" stroke="#000" stroke-width="0.6">k</text>
</g>
<g id="panel-l">
<rect x="1447.45" y="940.6" width="64.6" height="298" fill="#808080" stroke="#3a3a3a" stroke-width="1"/>
<rect x="1554.83" y="953.2" width="64.6" height="285.4" fill="#808080" stroke="#3a3a3a" stroke-width="1"/>
<rect x="1662.21" y="946.1" width="64.6" height="292.5" fill="#808080" stroke="#3a3a3a" stroke-width="1"/>
<line x1="1479.75" y1="939" x2="1479.75" y2="941.2" stroke="#222" stroke-width="1.2"/>
<line x1="1477.45" y1="939" x2="1482.05" y2="939" stroke="#222" stroke-width="1.3"/>
<line x1="1477.45" y1="941.2" x2="1482.05" y2="941.2" stroke="#222" stroke-width="1.3"/>
<line x1="1587.13" y1="952.5" x2="1587.13" y2="953.8" stroke="#222" stroke-width="1.2"/>
<line x1="1584.83" y1="952.5" x2="1589.43" y2="952.5" stroke="#222" stroke-width="1.3"/>
<line x1="1584.83" y1="953.8" x2="1589.43" y2="953.8" stroke="#222" stroke-width="1.3"/>
<line x1="1694.51" y1="945.1" x2="1694.51" y2="946.7" stroke="#222" stroke-width="1.2"/>
<line x1="1692.21" y1="945.1" x2="1696.81" y2="945.1" stroke="#222" stroke-width="1.3"/>
<line x1="1692.21" y1="946.7" x2="1696.81" y2="946.7" stroke="#222" stroke-width="1.3"/>
<line x1="1425.6" y1="914.3" x2="1425.6" y2="1239.3" stroke="#444" stroke-width="1.6"/>
<line x1="1420.4" y1="1238.6" x2="1747.8" y2="1238.6" stroke="#505050" stroke-width="1.6"/>
<text x="1417.3" y="1242.9" font-size="15" font-weight="bold" text-anchor="end" fill="#111">0.0</text>
<line x1="1420.4" y1="1192.36" x2="1425.6" y2="1192.36" stroke="#444" stroke-width="1.3"/>
<text x="1417.3" y="1196.66" font-size="15" font-weight="bold" text-anchor="end" fill="#111">0.1</text>
<line x1="1420.4" y1="1146.11" x2="1425.6" y2="1146.11" stroke="#444" stroke-width="1.3"/>
<text x="1417.3" y="1150.41" font-size="15" font-weight="bold" text-anchor="end" fill="#111">0.2</text>
<line x1="1420.4" y1="1099.87" x2="1425.6" y2="1099.87" stroke="#444" stroke-width="1.3"/>
<text x="1417.3" y="1104.17" font-size="15" font-weight="bold" text-anchor="end" fill="#111">0.3</text>
<line x1="1420.4" y1="1053.63" x2="1425.6" y2="1053.63" stroke="#444" stroke-width="1.3"/>
<text x="1417.3" y="1057.93" font-size="15" font-weight="bold" text-anchor="end" fill="#111">0.4</text>
<line x1="1420.4" y1="1007.39" x2="1425.6" y2="1007.39" stroke="#444" stroke-width="1.3"/>
<text x="1417.3" y="1011.69" font-size="15" font-weight="bold" text-anchor="end" fill="#111">0.5</text>
<line x1="1420.4" y1="961.14" x2="1425.6" y2="961.14" stroke="#444" stroke-width="1.3"/>
<text x="1417.3" y="965.44" font-size="15" font-weight="bold" text-anchor="end" fill="#111">0.6</text>
<line x1="1420.4" y1="914.9" x2="1425.6" y2="914.9" stroke="#444" stroke-width="1.3"/>
<text x="1417.3" y="919.2" font-size="15" font-weight="bold" text-anchor="end" fill="#111">0.7</text>
<text x="1479.75" y="1261.5" font-size="21.5" text-anchor="middle" textLength="31.9" lengthAdjust="spacingAndGlyphs" fill="#000" stroke="#000" stroke-width="0.35">CK</text>
<text x="1587.13" y="1261.5" font-size="21.5" text-anchor="middle" textLength="19.8" lengthAdjust="spacingAndGlyphs" fill="#000" stroke="#000" stroke-width="0.35">Al</text>
<text x="1694.51" y="1261.5" font-size="21.5" text-anchor="middle" textLength="67.0" lengthAdjust="spacingAndGlyphs" fill="#000" stroke="#000" stroke-width="0.35">Al+NO</text>
<text x="1577.4" y="904.63" font-size="25.5" font-weight="bold" textLength="21.8" lengthAdjust="spacingAndGlyphs" fill="#000">**</text>
<text x="1526.4" y="929.03" font-size="25.5" font-weight="bold" textLength="21.8" lengthAdjust="spacingAndGlyphs" fill="#000">**</text>
<text x="1635.9" y="930.03" font-size="25.5" font-weight="bold" textLength="21.8" lengthAdjust="spacingAndGlyphs" fill="#000">**</text>
<path d="M1477.4,915.2V900H1691.5V915.9" fill="none" stroke="#555" stroke-width="1.5"/>
<path d="M1477.4,935.4V920.8H1579.8V935.4" fill="none" stroke="#555" stroke-width="1.5"/>
<path d="M1594,937V920.8H1691.8V934.1" fill="none" stroke="#555" stroke-width="1.5"/>
<text x="1339.5" y="921.7" font-size="44" fill="#000" stroke="#000" stroke-width="0.6">l</text>
</g>
<text transform="translate(76,334.6) rotate(-90)" x="0" y="0" font-size="23.5" textLength="262.2" lengthAdjust="spacingAndGlyphs" fill="#000">Chlorophyll content(mg/g)</text>
<text transform="translate(545.8,328.9) rotate(-90)" x="0" y="0" font-size="23.5" textLength="261" lengthAdjust="spacingAndGlyphs" fill="#000">Carotenoid content(mg/g)</text>
<text transform="translate(970.8,383.4) rotate(-90)" x="0" y="0" font-size="23.5" textLength="369" lengthAdjust="spacingAndGlyphs" fill="#000">Net photosynthetic rate(μmol·m<tspan dy="-9.7" font-size="16">-2</tspan><tspan dy="9.7">s</tspan><tspan dy="-9.7" font-size="16">-1</tspan><tspan dy="9.7">)</tspan></text>
<text transform="translate(1381.2,381.6) rotate(-90)" x="0" y="0" font-size="23.5" textLength="364.5" lengthAdjust="spacingAndGlyphs" fill="#000">Stomatal conductance(mmol·m<tspan dy="-9.7" font-size="16">-2</tspan><tspan dy="9.7">s</tspan><tspan dy="-9.7" font-size="16">-1</tspan><tspan dy="9.7">)</tspan></text>
<text transform="translate(75.9,781.4) rotate(-90)" x="0" y="0" font-size="23.5" textLength="311" lengthAdjust="spacingAndGlyphs" fill="#000">Intercellular CO<tspan dy="6" font-size="15">2</tspan><tspan dy="-6"> concentration</tspan></text>
<text transform="translate(115.2,661.6) rotate(-90)" x="0" y="0" font-size="23.5" textLength="106.6" lengthAdjust="spacingAndGlyphs" fill="#000">(μmol·m<tspan dy="-9.7" font-size="16">-1</tspan><tspan dy="9.7">)</tspan></text>
<text transform="translate(545.3,786.8) rotate(-90)" x="0" y="0" font-size="23.5" textLength="317.2" lengthAdjust="spacingAndGlyphs" fill="#000">Transpiration rate(mmol·m<tspan dy="-9.7" font-size="16">-2</tspan><tspan dy="9.7">s</tspan><tspan dy="-9.7" font-size="16">-1</tspan><tspan dy="9.7">)</tspan></text>
<text transform="translate(961.4,640.6) rotate(-90)" x="0" y="0" font-size="23.5" fill="#000">F<tspan dy="6.5" font-size="17">0</tspan></text>
<text transform="translate(1389.7,645) rotate(-90)" x="0" y="0" font-size="23.5" fill="#000">Fm</text>
<text transform="translate(100,1111.5) rotate(-90)" x="0" y="0" font-size="23.5" textLength="64" lengthAdjust="spacingAndGlyphs" fill="#000">Fv/Fm</text>
<text transform="translate(545.5,1091.2) rotate(-90)" x="0" y="0" font-size="23.5" fill="#000">qP</text>
<text transform="translate(959,1091.6) rotate(-90)" x="0" y="0" font-size="23.5" fill="#000">qN</text>
<text transform="translate(1389.7,1103.8) rotate(-90)" x="0" y="0" font-size="23.5" fill="#000">Y(<tspan font-family="'Liberation Serif', 'Noto Serif CJK SC', serif" font-size="23">Ⅱ</tspan>)</text>
</svg>
</body></html>
